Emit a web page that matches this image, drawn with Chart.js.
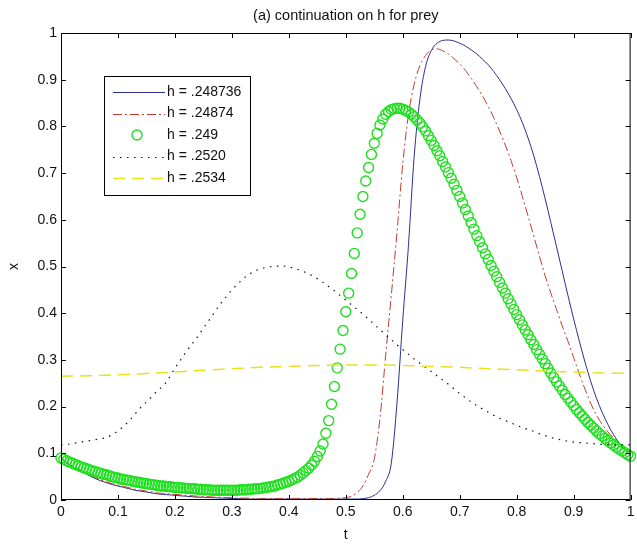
<!DOCTYPE html>
<html lang="en">
<head>
<meta charset="UTF-8" />
<title>(a) continuation on h for prey</title>
<script src="https://cdn.jsdelivr.net/npm/chart.js"></script>
<style>
  html, body { margin: 0; padding: 0; background: #fff; }
  #caixa { width: 637px; height: 545px; }
</style>
</head>
<body>
<div id="caixa"><canvas id="grafico" width="637" height="545"></canvas></div>
<script>
  // eixo t (amostras)
  const tLinhas = Array.from({ length: 101 }, (_, i) => i / 100);
  const tVerde = Array.from({ length: 201 }, (_, i) => i / 200);
  const tAmarelo = Array.from({ length: 21 }, (_, i) => i / 20);

  const rotulosT = ["0", "0.1", "0.2", "0.3", "0.4", "0.5", "0.6", "0.7", "0.8", "0.9", "1"];
  const rotulosX = ["0", "0.1", "0.2", "0.3", "0.4", "0.5", "0.6", "0.7", "0.8", "0.9", "1"];

  const legendas = ["h = .248736", "h = .24874", "h = .249", "h = .2520", "h = .2534"];

  // h = .248736
  const xAzul = [
    0.090, 0.080, 0.072, 0.065, 0.058, 0.052, 0.046, 0.041, 0.037, 0.033,
    0.030, 0.027, 0.024, 0.021, 0.019, 0.017, 0.015, 0.013, 0.012, 0.011,
    0.010, 0.009, 0.008, 0.007, 0.006, 0.006, 0.005, 0.005, 0.004, 0.004,
    0.003, 0.003, 0.003, 0.002, 0.002, 0.002, 0.002, 0.002, 0.002, 0.002,
    0.002, 0.002, 0.002, 0.002, 0.002, 0.002, 0.002, 0.002, 0.002, 0.002,
    0.002, 0.002, 0.002, 0.003, 0.005, 0.010, 0.020, 0.040, 0.080, 0.210,
    0.385, 0.545, 0.735, 0.858, 0.928, 0.962, 0.978, 0.984, 0.985, 0.983,
    0.978, 0.972, 0.964, 0.955, 0.944, 0.932, 0.917, 0.900, 0.881, 0.860,
    0.836, 0.808, 0.775, 0.737, 0.693, 0.645, 0.594, 0.542, 0.490, 0.438,
    0.388, 0.340, 0.295, 0.254, 0.218, 0.188, 0.162, 0.140, 0.122, 0.107,
    0.095
  ];

  // h = .24874
  const xVermelho = [
    0.090, 0.081, 0.073, 0.066, 0.060, 0.054, 0.048, 0.043, 0.039, 0.035,
    0.032, 0.029, 0.026, 0.023, 0.021, 0.019, 0.017, 0.015, 0.014, 0.013,
    0.012, 0.011, 0.010, 0.009, 0.008, 0.007, 0.007, 0.006, 0.006, 0.005,
    0.005, 0.004, 0.004, 0.004, 0.003, 0.003, 0.003, 0.003, 0.003, 0.003,
    0.003, 0.003, 0.003, 0.003, 0.003, 0.003, 0.003, 0.003, 0.003, 0.004,
    0.005, 0.008, 0.016, 0.030, 0.055, 0.088, 0.175, 0.310, 0.440, 0.575,
    0.720, 0.825, 0.890, 0.930, 0.952, 0.964, 0.966, 0.962, 0.955, 0.945,
    0.934, 0.920, 0.903, 0.885, 0.865, 0.843, 0.818, 0.790, 0.760, 0.727,
    0.690, 0.650, 0.608, 0.565, 0.522, 0.480, 0.443, 0.408, 0.373, 0.340,
    0.305, 0.270, 0.237, 0.207, 0.182, 0.162, 0.146, 0.133, 0.121, 0.110,
    0.100
  ];

  // h = .249 (circulos, passo 0.005)
  const xVerde = [
    0.090, 0.087, 0.084, 0.081, 0.079, 0.076, 0.074, 0.071, 0.069, 0.067,
    0.065, 0.063, 0.061, 0.059, 0.057, 0.055, 0.054, 0.052, 0.050, 0.048,
    0.047, 0.045, 0.044, 0.043, 0.042, 0.040, 0.039, 0.038, 0.037, 0.036,
    0.035, 0.034, 0.033, 0.032, 0.031, 0.030, 0.030, 0.029, 0.029, 0.028,
    0.027, 0.027, 0.026, 0.026, 0.025, 0.025, 0.024, 0.024, 0.023, 0.023,
    0.022, 0.022, 0.022, 0.021, 0.021, 0.021, 0.021, 0.021, 0.021, 0.021,
    0.021, 0.021, 0.021, 0.022, 0.022, 0.022, 0.023, 0.023, 0.024, 0.024,
    0.025, 0.026, 0.027, 0.028, 0.029, 0.030, 0.032, 0.034, 0.036, 0.038,
    0.040, 0.043, 0.046, 0.049, 0.053, 0.058, 0.063, 0.068, 0.075, 0.083,
    0.093, 0.105, 0.120, 0.143, 0.170, 0.205, 0.243, 0.283, 0.323, 0.363,
    0.403, 0.443, 0.485, 0.528, 0.572, 0.612, 0.650, 0.683, 0.712, 0.740,
    0.764, 0.785, 0.803, 0.816, 0.826, 0.832, 0.836, 0.838, 0.839, 0.839,
    0.837, 0.834, 0.831, 0.826, 0.821, 0.814, 0.807, 0.799, 0.790, 0.780,
    0.770, 0.759, 0.748, 0.737, 0.725, 0.713, 0.701, 0.689, 0.676, 0.663,
    0.650, 0.636, 0.622, 0.608, 0.594, 0.580, 0.566, 0.553, 0.540, 0.527,
    0.515, 0.502, 0.490, 0.478, 0.466, 0.454, 0.443, 0.431, 0.420, 0.408,
    0.397, 0.386, 0.375, 0.364, 0.354, 0.343, 0.333, 0.322, 0.312, 0.302,
    0.292, 0.282, 0.272, 0.262, 0.253, 0.244, 0.235, 0.226, 0.218, 0.210,
    0.202, 0.194, 0.187, 0.180, 0.173, 0.166, 0.160, 0.154, 0.148, 0.142,
    0.137, 0.132, 0.127, 0.122, 0.118, 0.113, 0.109, 0.105, 0.101, 0.097,
    0.094
  ];

  // h = .2520
  const xPreto = [
    0.118, 0.119, 0.121, 0.123, 0.125, 0.127, 0.129, 0.131, 0.134, 0.140,
    0.148, 0.158, 0.170, 0.184, 0.198, 0.210, 0.222, 0.235, 0.245, 0.262,
    0.282, 0.300, 0.318, 0.334, 0.350, 0.368, 0.385, 0.403, 0.420, 0.435,
    0.450, 0.462, 0.474, 0.483, 0.490, 0.495, 0.498, 0.500, 0.501, 0.501,
    0.499, 0.496, 0.492, 0.487, 0.481, 0.474, 0.466, 0.457, 0.448, 0.438,
    0.428, 0.418, 0.408, 0.398, 0.387, 0.376, 0.365, 0.354, 0.343, 0.332,
    0.322, 0.312, 0.302, 0.293, 0.284, 0.275, 0.266, 0.257, 0.248, 0.238,
    0.228, 0.219, 0.210, 0.202, 0.195, 0.188, 0.181, 0.175, 0.170, 0.165,
    0.160, 0.155, 0.151, 0.147, 0.142, 0.138, 0.134, 0.131, 0.128, 0.126,
    0.124, 0.123, 0.122, 0.121, 0.120, 0.119, 0.119, 0.118, 0.118, 0.118,
    0.118
  ];

  // h = .2534 (passo 0.05)
  const xAmarelo = [
    0.265, 0.266, 0.268, 0.271, 0.274, 0.278, 0.281, 0.284, 0.286, 0.288,
    0.289, 0.289, 0.288, 0.286, 0.284, 0.281, 0.279, 0.276, 0.274, 0.272,
    0.271
  ];

  function pares(ts, xs) {
    return ts.map((t, i) => ({ x: t, y: xs[i] }));
  }

  Chart.defaults.font.family = "'Liberation Sans', Arial, sans-serif";
  Chart.defaults.color = "#111";

  // caixa do eixo com marcas para dentro (estilo matlab)
  const moldura = {
    id: "moldura",
    afterDraw(chart) {
      const { ctx, chartArea: a, scales } = chart;
      ctx.save();
      ctx.strokeStyle = "#000";
      ctx.lineWidth = 1;
      ctx.strokeRect(a.left + 0.5, a.top + 0.5, a.right - a.left - 1, a.bottom - a.top - 1);
      ctx.beginPath();
      scales.x.ticks.forEach(function (t) {
        const px = Math.round(scales.x.getPixelForValue(t.value)) + 0.5;
        ctx.moveTo(px, a.bottom); ctx.lineTo(px, a.bottom - 5);
        ctx.moveTo(px, a.top); ctx.lineTo(px, a.top + 5);
      });
      scales.y.ticks.forEach(function (t) {
        const py = Math.round(scales.y.getPixelForValue(t.value)) + 0.5;
        ctx.moveTo(a.left, py); ctx.lineTo(a.left + 5, py);
        ctx.moveTo(a.right, py); ctx.lineTo(a.right - 5, py);
      });
      ctx.stroke();
      ctx.restore();
    }
  };

  // legenda desenhada dentro do grafico
  const legendaCaixa = {
    id: "legendaCaixa",
    afterDraw(chart) {
      const ctx = chart.ctx;
      const x0 = 104, y0 = 76, w = 146, h = 119;
      ctx.save();
      ctx.fillStyle = "#fff";
      ctx.fillRect(x0, y0, w, h);
      ctx.strokeStyle = "#000";
      ctx.lineWidth = 1;
      ctx.strokeRect(x0 + 0.5, y0 + 0.5, w, h);
      ctx.font = "14px 'Liberation Sans', Arial, sans-serif";
      ctx.textBaseline = "middle";
      chart.data.datasets.forEach(function (ds, i) {
        const y = y0 + 16 + i * 21.5;
        if (ds.showLine === false) {
          ctx.beginPath();
          ctx.strokeStyle = ds.pointBorderColor;
          ctx.lineWidth = ds.pointBorderWidth;
          ctx.arc(137, y, ds.pointRadius, 0, Math.PI * 2);
          ctx.stroke();
        } else {
          ctx.beginPath();
          ctx.strokeStyle = ds.borderColor;
          ctx.lineWidth = ds.borderWidth;
          ctx.setLineDash(ds.borderDash || []);
          ctx.moveTo(113, Math.round(y) + 0.5);
          ctx.lineTo(165, Math.round(y) + 0.5);
          ctx.stroke();
          ctx.setLineDash([]);
        }
        ctx.fillStyle = "#111";
        ctx.fillText(ds.label, 167, y);
      });
      ctx.restore();
    }
  };

  const config = {
    type: "line",
    data: {
      datasets: [
        {
          label: legendas[0],
          data: pares(tLinhas, xAzul),
          borderColor: "#2a2f93",
          borderWidth: 1,
          pointRadius: 0,
          cubicInterpolationMode: "monotone",
          order: 5
        },
        {
          label: legendas[1],
          data: pares(tLinhas, xVermelho),
          borderColor: "#c23b2e",
          borderWidth: 1,
          borderDash: [9, 3, 2, 3],
          pointRadius: 0,
          cubicInterpolationMode: "monotone",
          order: 4
        },
        {
          label: legendas[2],
          data: pares(tVerde, xVerde),
          showLine: false,
          pointStyle: "circle",
          pointRadius: 5,
          pointBorderWidth: 1.4,
          pointBorderColor: "#1ee01e",
          pointBackgroundColor: "rgba(0,0,0,0)",
          clip: 6,
          order: 3
        },
        {
          label: legendas[3],
          data: pares(tLinhas, xPreto),
          borderColor: "#111",
          borderWidth: 1.2,
          borderDash: [1.5, 5.5],
          pointRadius: 0,
          cubicInterpolationMode: "monotone",
          order: 2
        },
        {
          label: legendas[4],
          data: pares(tAmarelo, xAmarelo),
          borderColor: "#e8e21a",
          borderWidth: 1.5,
          borderDash: [12, 7],
          pointRadius: 0,
          cubicInterpolationMode: "monotone",
          order: 1
        }
      ]
    },
    options: {
      responsive: false,
      animation: false,
      layout: { padding: { top: 0, right: 3, bottom: 0, left: 0 } },
      plugins: {
        legend: { display: false },
        tooltip: { enabled: false },
        title: {
          display: true,
          fullSize: false,
          text: "(a) continuation on h for prey",
          font: { size: 14.5, weight: "normal" },
          color: "#111",
          padding: { top: 7, bottom: 8.6 }
        }
      },
      scales: {
        x: {
          type: "linear",
          min: 0,
          max: 1,
          grid: { display: false, drawTicks: false },
          border: { display: false },
          ticks: {
            stepSize: 0.1,
            padding: 4,
            maxRotation: 0,
            font: { size: 14 },
            callback: function (v, i) { return rotulosT[i]; }
          },
          title: {
            display: true,
            text: "t",
            font: { size: 14 },
            padding: { top: 0, bottom: 1 }
          },
          afterFit: function (s) { s.height = 45; s.paddingLeft = 0; s.paddingRight = 0; }
        },
        y: {
          type: "linear",
          min: 0,
          max: 1,
          grid: { display: false, drawTicks: false },
          border: { display: false },
          ticks: {
            stepSize: 0.1,
            padding: 4,
            font: { size: 14 },
            callback: function (v, i) { return rotulosX[i]; }
          },
          title: {
            display: true,
            text: "x",
            font: { size: 14 },
            padding: { top: 6, bottom: 0 }
          },
          afterFit: function (s) { s.width = 61; s.paddingTop = 0; s.paddingBottom = 0; }
        }
      }
    },
    plugins: [moldura, legendaCaixa]
  };

  new Chart(document.getElementById("grafico"), config);
</script>
</body>
</html>
